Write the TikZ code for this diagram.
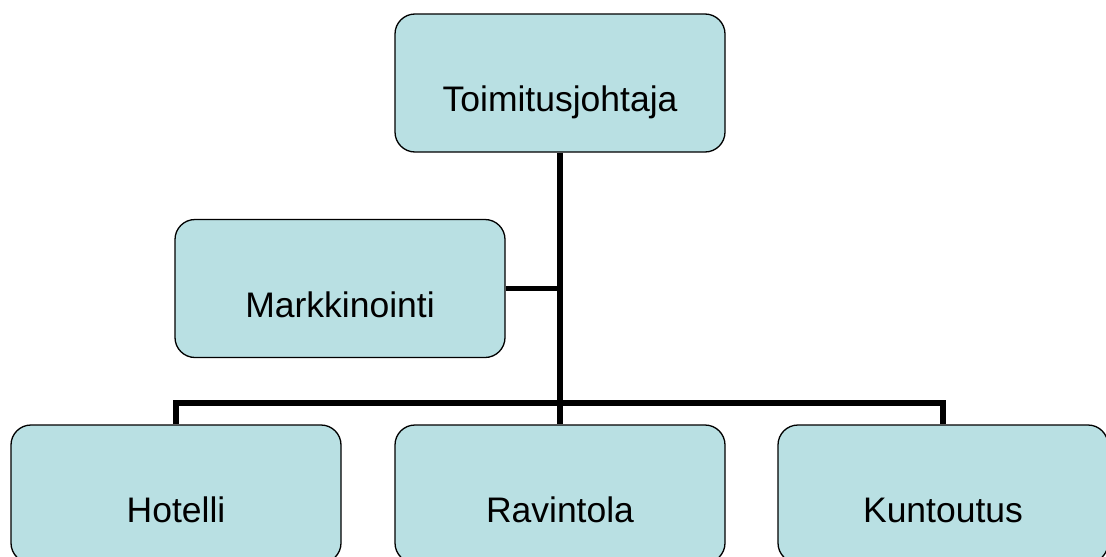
\documentclass[tikz,border=0pt]{standalone}
\usepackage{fontspec}
\setmainfont{Liberation Sans}
\definecolor{boxfill}{HTML}{B9E0E3}
\begin{document}
\begin{tikzpicture}[x=1pt,y=-1pt,
  orgbox/.style={draw=black, line width=1.3pt, fill=boxfill, rounded corners=20pt,
    minimum width=330pt, minimum height=138pt, inner sep=0pt,
    font=\fontsize{35.5}{40}\selectfont, text height=57pt, text depth=0pt},
  conn/.style={draw=black, line width=5.5pt, line join=miter}]
\useasboundingbox (0,0) rectangle (1106,557);
\node[orgbox] (top) at (560,83) {Toimitusjohtaja};
\node[orgbox] (mark) at (340,288.5) {Markkinointi};
\node[orgbox] (hot) at (176,494) {Hotelli};
\node[orgbox] (rav) at (560,494) {Ravintola};
\node[orgbox] (kun) at (943,494) {Kuntoutus};
\coordinate (bus) at (560,403);
\draw[conn] (top.south) -- (rav.north);
\draw[conn] (mark.east) -- (mark.east -| top.south);
\draw[conn] (hot.north) |- (bus) -| (kun.north);
\end{tikzpicture}
\end{document}
